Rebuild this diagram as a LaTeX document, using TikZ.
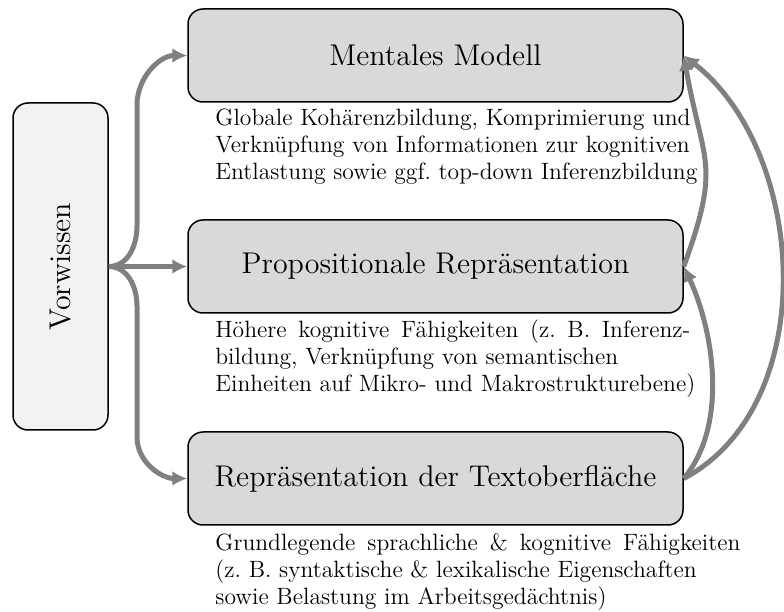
\documentclass[tikz,border=0pt]{standalone}
\usepackage{graphicx}
\usetikzlibrary{arrows.meta}
\begin{document}
\begin{tikzpicture}[x=0.5pt,y=0.5pt,
  level/.style={draw=black, line width=0.75pt, fill=gray!30, rounded corners=7.5pt,
    minimum width=247.5pt, minimum height=46.5pt, inner sep=0pt,
    font=\fontsize{14.99}{18}\selectfont},
  prior/.style={draw=black, line width=0.75pt, fill=gray!10, rounded corners=7.5pt,
    minimum width=47.5pt, minimum height=163.5pt, inner sep=0pt,
    font=\fontsize{14.99}{18}\selectfont},
  note/.style={anchor=north west, inner sep=0pt, align=left,
    font=\fontsize{11.8}{13.5}\selectfont},
  flow/.style={draw=gray, line width=2.5pt, -{Latex[length=7.5pt,width=7.5pt]}}
]
\useasboundingbox (0,0) rectangle (784,612);

% the three levels of representation
\node[level] (m) at (435.5,556.5) {Mentales Modell};
\node[level] (p) at (435.5,345.5) {Propositionale Repräsentation};
\node[level] (t) at (435.5,133.5) {Repräsentation der Textoberfläche};

% prior knowledge
\node[prior] (v) at (60.5,345.5) {\rotatebox{90}{Vorwissen}};

% descriptions below each level (full lines are justified)
\node[note] (dm) at (215,504) {Globale Kohärenzbildung, Komprimierung und\\
  Verknüpfung von Informationen zur kognitiven\\
  Entlastung sowie ggf.\ top-down Inferenzbildung};
\node[note] (dp) at (215,293) {\makebox[237.5pt][s]{Höhere kognitive Fähigkeiten (z.~B. Inferenz-}\\
  bildung, Verknüpfung von semantischen\\
  Einheiten auf Mikro- und Makrostrukturebene)};
\node[note] (dt) at (215,79) {\makebox[262.5pt][s]{Grundlegende sprachliche \& kognitive Fähigkeiten}\\
  (z.~B. syntaktische \& lexikalische Eigenschaften\\
  sowie Belastung im Arbeitsgedächtnis)};

% prior knowledge feeds every level
\draw[flow] (v.east) to[out=0,in=-90] (137,386) -- (137,507) to[out=90,in=180] (m.west);
\draw[flow] (v.east) -- (p.west);
\draw[flow] (v.east) to[out=0,in=90] (137,306) -- (137,175) to[out=-90,in=180] (t.west);

% bottom-up connections on the right
\draw[flow] (p.east) to[out=70,in=-80,looseness=1.35] (m.east);
\draw[flow] (t.east) to[out=50,in=-65,looseness=0.85] (p.east);
\draw[flow] (t.east) to[out=28,in=-38,looseness=0.95] (m.east);
\end{tikzpicture}
\end{document}
